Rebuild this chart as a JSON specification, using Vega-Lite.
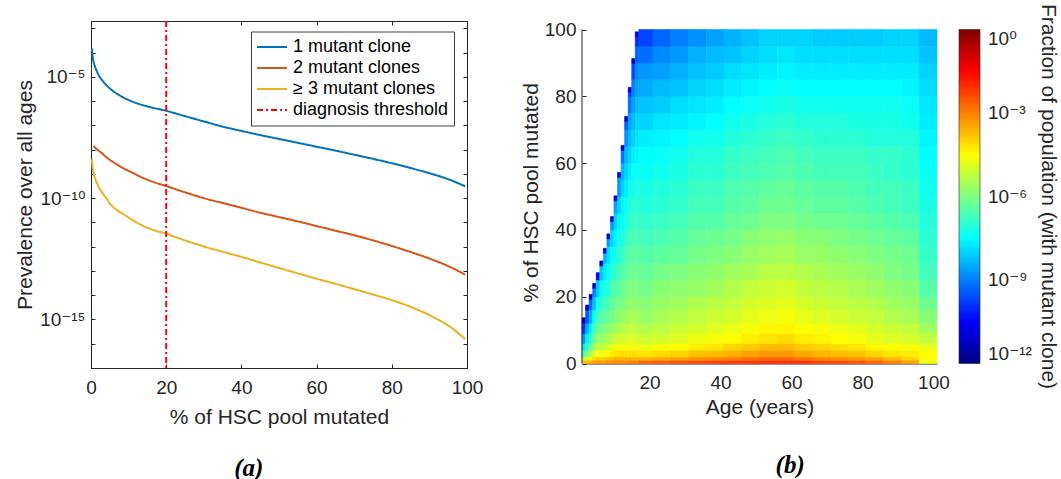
{
"$schema":"https://vega.github.io/schema/vega-lite/v6.json",
"background":"white",
"padding":{"left":14,"top":18,"right":0,"bottom":0},
"autosize":{"type":"pad"},
"config":{
"view":{"stroke":null},
"axis":{"labelFont":"Liberation Sans, DejaVu Sans","labelFontSize":19,"labelColor":"#262626","titleFont":"Liberation Sans","titleFontSize":21,"titleFontWeight":"normal","titleColor":"#262626","domainColor":"#262626","tickColor":"#262626","tickSize":-4,"labelPadding":10,"grid":false,"labelFlush":false,"labelOverlap":false,"labelBound":false},
"axisX":{"labelPadding":14}
},
"datasets":{
"lines":[
{"series":"1 mutant clone","pct":0.2,"prev":1.51e-4},{"series":"1 mutant clone","pct":0.5,"prev":5.89e-5},{"series":"1 mutant clone","pct":1,"prev":2.82e-5},{"series":"1 mutant clone","pct":1.5,"prev":1.78e-5},{"series":"1 mutant clone","pct":2,"prev":1.2e-5},{"series":"1 mutant clone","pct":3,"prev":7.08e-6},{"series":"1 mutant clone","pct":4,"prev":4.68e-6},{"series":"1 mutant clone","pct":5,"prev":3.31e-6},{"series":"1 mutant clone","pct":6,"prev":2.51e-6},{"series":"1 mutant clone","pct":8,"prev":1.58e-6},{"series":"1 mutant clone","pct":10,"prev":1.1e-6},{"series":"1 mutant clone","pct":12,"prev":8.32e-7},{"series":"1 mutant clone","pct":15,"prev":6.03e-7},{"series":"1 mutant clone","pct":20,"prev":3.98e-7},{"series":"1 mutant clone","pct":25,"prev":2.4e-7},{"series":"1 mutant clone","pct":30,"prev":1.45e-7},{"series":"1 mutant clone","pct":35,"prev":8.91e-8},{"series":"1 mutant clone","pct":40,"prev":5.89e-8},{"series":"1 mutant clone","pct":45,"prev":3.98e-8},{"series":"1 mutant clone","pct":50,"prev":2.75e-8},{"series":"1 mutant clone","pct":55,"prev":1.91e-8},{"series":"1 mutant clone","pct":60,"prev":1.32e-8},{"series":"1 mutant clone","pct":65,"prev":9.12e-9},{"series":"1 mutant clone","pct":70,"prev":6.17e-9},{"series":"1 mutant clone","pct":75,"prev":4.17e-9},{"series":"1 mutant clone","pct":80,"prev":2.75e-9},{"series":"1 mutant clone","pct":85,"prev":1.74e-9},{"series":"1 mutant clone","pct":90,"prev":1.07e-9},{"series":"1 mutant clone","pct":95,"prev":6.03e-10},{"series":"1 mutant clone","pct":99.5,"prev":3.09e-10},
{"series":"2 mutant clones","pct":0.7,"prev":1.41e-8},{"series":"2 mutant clones","pct":1,"prev":1.26e-8},{"series":"2 mutant clones","pct":1.5,"prev":1.05e-8},{"series":"2 mutant clones","pct":2,"prev":9.12e-9},{"series":"2 mutant clones","pct":3,"prev":6.92e-9},{"series":"2 mutant clones","pct":4,"prev":5.01e-9},{"series":"2 mutant clones","pct":5,"prev":3.8e-9},{"series":"2 mutant clones","pct":7,"prev":2.4e-9},{"series":"2 mutant clones","pct":9,"prev":1.58e-9},{"series":"2 mutant clones","pct":11,"prev":1.12e-9},{"series":"2 mutant clones","pct":13.3,"prev":7.41e-10},{"series":"2 mutant clones","pct":16,"prev":5.01e-10},{"series":"2 mutant clones","pct":20,"prev":3.16e-10},{"series":"2 mutant clones","pct":25,"prev":1.74e-10},{"series":"2 mutant clones","pct":30,"prev":1e-10},{"series":"2 mutant clones","pct":35,"prev":6.31e-11},{"series":"2 mutant clones","pct":40,"prev":3.98e-11},{"series":"2 mutant clones","pct":45,"prev":2.51e-11},{"series":"2 mutant clones","pct":50,"prev":1.66e-11},{"series":"2 mutant clones","pct":55,"prev":1.1e-11},{"series":"2 mutant clones","pct":60,"prev":7.08e-12},{"series":"2 mutant clones","pct":65,"prev":4.57e-12},{"series":"2 mutant clones","pct":70,"prev":2.95e-12},{"series":"2 mutant clones","pct":75,"prev":1.82e-12},{"series":"2 mutant clones","pct":80,"prev":1.07e-12},{"series":"2 mutant clones","pct":85,"prev":6.03e-13},{"series":"2 mutant clones","pct":90,"prev":3.24e-13},{"series":"2 mutant clones","pct":95,"prev":1.58e-13},{"series":"2 mutant clones","pct":99.5,"prev":7.08e-14},
{"series":"≥ 3 mutant clones","pct":0.2,"prev":3.98e-9},{"series":"≥ 3 mutant clones","pct":0.5,"prev":1.58e-9},{"series":"≥ 3 mutant clones","pct":1,"prev":7.08e-10},{"series":"≥ 3 mutant clones","pct":1.5,"prev":4.47e-10},{"series":"≥ 3 mutant clones","pct":2,"prev":3.02e-10},{"series":"≥ 3 mutant clones","pct":3,"prev":1.66e-10},{"series":"≥ 3 mutant clones","pct":4,"prev":1.05e-10},{"series":"≥ 3 mutant clones","pct":5,"prev":6.03e-11},{"series":"≥ 3 mutant clones","pct":7,"prev":3.16e-11},{"series":"≥ 3 mutant clones","pct":9,"prev":2e-11},{"series":"≥ 3 mutant clones","pct":11,"prev":1.26e-11},{"series":"≥ 3 mutant clones","pct":13.3,"prev":7.94e-12},{"series":"≥ 3 mutant clones","pct":16,"prev":5.25e-12},{"series":"≥ 3 mutant clones","pct":20,"prev":3.39e-12},{"series":"≥ 3 mutant clones","pct":25,"prev":1.82e-12},{"series":"≥ 3 mutant clones","pct":30,"prev":1.02e-12},{"series":"≥ 3 mutant clones","pct":35,"prev":6.17e-13},{"series":"≥ 3 mutant clones","pct":40,"prev":3.8e-13},{"series":"≥ 3 mutant clones","pct":45,"prev":2.24e-13},{"series":"≥ 3 mutant clones","pct":50,"prev":1.32e-13},{"series":"≥ 3 mutant clones","pct":55,"prev":7.94e-14},{"series":"≥ 3 mutant clones","pct":60,"prev":4.79e-14},{"series":"≥ 3 mutant clones","pct":65,"prev":2.95e-14},{"series":"≥ 3 mutant clones","pct":70,"prev":1.78e-14},{"series":"≥ 3 mutant clones","pct":75,"prev":1.07e-14},{"series":"≥ 3 mutant clones","pct":80,"prev":6.31e-15},{"series":"≥ 3 mutant clones","pct":85,"prev":3.31e-15},{"series":"≥ 3 mutant clones","pct":90,"prev":1.51e-15},{"series":"≥ 3 mutant clones","pct":95,"prev":5.62e-16},{"series":"≥ 3 mutant clones","pct":99.5,"prev":1.58e-16}
],
"heat":[
{"a":1,"b":2,"p":0,"q":1,"f":1.6e-4},{"a":1,"b":2,"p":1,"q":2,"f":4e-6},{"a":1,"b":2,"p":2,"q":4,"f":2e-7},{"a":1,"b":2,"p":4,"q":6,"f":2e-8},{"a":1,"b":2,"p":6,"q":9,"f":2e-9},{"a":1,"b":2,"p":9,"q":12,"f":1.3e-10},{"a":1,"b":2,"p":12,"q":13.7,"f":5e-12},
{"a":2,"b":3,"p":0,"q":1,"f":2e-4},{"a":2,"b":3,"p":1,"q":2,"f":1.6e-5},{"a":2,"b":3,"p":2,"q":4,"f":1.3e-6},{"a":2,"b":3,"p":4,"q":6,"f":1.3e-7},{"a":2,"b":3,"p":6,"q":9,"f":2.5e-8},{"a":2,"b":3,"p":9,"q":12,"f":3.2e-9},{"a":2,"b":3,"p":12,"q":16,"f":3.2e-10},{"a":2,"b":3,"p":16,"q":17.5,"f":6.3e-12},
{"a":3,"b":4,"p":0,"q":1,"f":3.2e-4},{"a":3,"b":4,"p":1,"q":2,"f":4e-5},{"a":3,"b":4,"p":2,"q":4,"f":4e-6},{"a":3,"b":4,"p":4,"q":6,"f":6.3e-7},{"a":3,"b":4,"p":6,"q":9,"f":1.3e-7},{"a":3,"b":4,"p":9,"q":12,"f":2.5e-8},{"a":3,"b":4,"p":12,"q":16,"f":4e-9},{"a":3,"b":4,"p":16,"q":19.2,"f":5e-10},{"a":3,"b":4,"p":19.2,"q":20.7,"f":6.3e-12},
{"a":4,"b":5,"p":0,"q":1,"f":4e-4},{"a":4,"b":5,"p":1,"q":2,"f":7.9e-5},{"a":4,"b":5,"p":2,"q":4,"f":1.3e-5},{"a":4,"b":5,"p":4,"q":6,"f":2e-6},{"a":4,"b":5,"p":6,"q":9,"f":5e-7},{"a":4,"b":5,"p":9,"q":12,"f":1.6e-7},{"a":4,"b":5,"p":12,"q":16,"f":4e-8},{"a":4,"b":5,"p":16,"q":20,"f":6.3e-9},{"a":4,"b":5,"p":20,"q":22.5,"f":1e-9},{"a":4,"b":5,"p":22.5,"q":24,"f":6.3e-12},
{"a":5,"b":6,"p":0,"q":1,"f":5e-4},{"a":5,"b":6,"p":1,"q":2,"f":1.3e-4},{"a":5,"b":6,"p":2,"q":4,"f":2.5e-5},{"a":5,"b":6,"p":4,"q":6,"f":6.3e-6},{"a":5,"b":6,"p":6,"q":9,"f":1.6e-6},{"a":5,"b":6,"p":9,"q":12,"f":6.3e-7},{"a":5,"b":6,"p":12,"q":16,"f":2e-7},{"a":5,"b":6,"p":16,"q":20,"f":5e-8},{"a":5,"b":6,"p":20,"q":25,"f":7.9e-9},{"a":5,"b":6,"p":25,"q":27.2,"f":1e-11},
{"a":6,"b":7,"p":0,"q":1,"f":5e-4},{"a":6,"b":7,"p":1,"q":2,"f":1e-4},{"a":6,"b":7,"p":2,"q":4,"f":2e-5},{"a":6,"b":7,"p":4,"q":6,"f":6.3e-6},{"a":6,"b":7,"p":6,"q":9,"f":2e-6},{"a":6,"b":7,"p":9,"q":12,"f":6.3e-7},{"a":6,"b":7,"p":12,"q":16,"f":3.2e-7},{"a":6,"b":7,"p":16,"q":20,"f":1e-7},{"a":6,"b":7,"p":20,"q":25,"f":3.2e-8},{"a":6,"b":7,"p":25,"q":29.2,"f":6.3e-9},{"a":6,"b":7,"p":29.2,"q":30.7,"f":7.9e-12},
{"a":7,"b":8,"p":0,"q":1,"f":5e-4},{"a":7,"b":8,"p":1,"q":2,"f":1.3e-4},{"a":7,"b":8,"p":2,"q":4,"f":2.5e-5},{"a":7,"b":8,"p":4,"q":6,"f":7.9e-6},{"a":7,"b":8,"p":6,"q":9,"f":2.5e-6},{"a":7,"b":8,"p":9,"q":12,"f":1e-6},{"a":7,"b":8,"p":12,"q":16,"f":4e-7},{"a":7,"b":8,"p":16,"q":20,"f":1.6e-7},{"a":7,"b":8,"p":20,"q":25,"f":6.3e-8},{"a":7,"b":8,"p":25,"q":30,"f":2e-8},{"a":7,"b":8,"p":30,"q":33,"f":4e-9},{"a":7,"b":8,"p":33,"q":34.5,"f":7.9e-12},
{"a":8,"b":9,"p":0,"q":1,"f":6.3e-4},{"a":8,"b":9,"p":1,"q":2,"f":1.6e-4},{"a":8,"b":9,"p":2,"q":4,"f":3.2e-5},{"a":8,"b":9,"p":4,"q":6,"f":1e-5},{"a":8,"b":9,"p":6,"q":9,"f":3.2e-6},{"a":8,"b":9,"p":9,"q":12,"f":1.3e-6},{"a":8,"b":9,"p":12,"q":16,"f":6.3e-7},{"a":8,"b":9,"p":16,"q":20,"f":2.5e-7},{"a":8,"b":9,"p":20,"q":25,"f":1e-7},{"a":8,"b":9,"p":25,"q":30,"f":4e-8},{"a":8,"b":9,"p":30,"q":35,"f":1.3e-8},{"a":8,"b":9,"p":35,"q":37.3,"f":2.5e-9},{"a":8,"b":9,"p":37.3,"q":38.8,"f":7.9e-12},
{"a":9,"b":10,"p":0,"q":1,"f":6.3e-4},{"a":9,"b":10,"p":1,"q":2,"f":2e-4},{"a":9,"b":10,"p":2,"q":4,"f":5e-5},{"a":9,"b":10,"p":4,"q":6,"f":1.6e-5},{"a":9,"b":10,"p":6,"q":9,"f":5e-6},{"a":9,"b":10,"p":9,"q":12,"f":2e-6},{"a":9,"b":10,"p":12,"q":16,"f":7.9e-7},{"a":9,"b":10,"p":16,"q":20,"f":4e-7},{"a":9,"b":10,"p":20,"q":25,"f":2e-7},{"a":9,"b":10,"p":25,"q":30,"f":7.9e-8},{"a":9,"b":10,"p":30,"q":35,"f":3.2e-8},{"a":9,"b":10,"p":35,"q":40,"f":1e-8},{"a":9,"b":10,"p":40,"q":42.5,"f":2e-9},{"a":9,"b":10,"p":42.5,"q":44,"f":7.9e-12},
{"a":10,"b":11,"p":0,"q":1,"f":7.9e-4},{"a":10,"b":11,"p":1,"q":2,"f":2.5e-4},{"a":10,"b":11,"p":2,"q":4,"f":6.3e-5},{"a":10,"b":11,"p":4,"q":6,"f":2e-5},{"a":10,"b":11,"p":6,"q":9,"f":7.9e-6},{"a":10,"b":11,"p":9,"q":12,"f":2.5e-6},{"a":10,"b":11,"p":12,"q":16,"f":1.3e-6},{"a":10,"b":11,"p":16,"q":20,"f":6.3e-7},{"a":10,"b":11,"p":20,"q":25,"f":3.2e-7},{"a":10,"b":11,"p":25,"q":30,"f":1.3e-7},{"a":10,"b":11,"p":30,"q":35,"f":6.3e-8},{"a":10,"b":11,"p":35,"q":40,"f":2.5e-8},{"a":10,"b":11,"p":40,"q":45,"f":1e-8},{"a":10,"b":11,"p":45,"q":48.7,"f":2.5e-9},{"a":10,"b":11,"p":48.7,"q":50.2,"f":7.9e-12},
{"a":11,"b":12,"p":0,"q":1,"f":7.9e-4},{"a":11,"b":12,"p":1,"q":2,"f":2.5e-4},{"a":11,"b":12,"p":2,"q":4,"f":7.9e-5},{"a":11,"b":12,"p":4,"q":6,"f":2.5e-5},{"a":11,"b":12,"p":6,"q":9,"f":1e-5},{"a":11,"b":12,"p":9,"q":12,"f":3.2e-6},{"a":11,"b":12,"p":12,"q":16,"f":1.6e-6},{"a":11,"b":12,"p":16,"q":20,"f":7.9e-7},{"a":11,"b":12,"p":20,"q":25,"f":4e-7},{"a":11,"b":12,"p":25,"q":30,"f":2e-7},{"a":11,"b":12,"p":30,"q":35,"f":1e-7},{"a":11,"b":12,"p":35,"q":40,"f":5e-8},{"a":11,"b":12,"p":40,"q":45,"f":2.5e-8},{"a":11,"b":12,"p":45,"q":50,"f":1e-8},{"a":11,"b":12,"p":50,"q":55.7,"f":2e-9},{"a":11,"b":12,"p":55.7,"q":57.2,"f":7.9e-12},
{"a":12,"b":13,"p":0,"q":1,"f":7.9e-4},{"a":12,"b":13,"p":1,"q":2,"f":2.5e-4},{"a":12,"b":13,"p":2,"q":4,"f":7.9e-5},{"a":12,"b":13,"p":4,"q":6,"f":2.5e-5},{"a":12,"b":13,"p":6,"q":9,"f":1e-5},{"a":12,"b":13,"p":9,"q":12,"f":5e-6},{"a":12,"b":13,"p":12,"q":16,"f":2e-6},{"a":12,"b":13,"p":16,"q":20,"f":1e-6},{"a":12,"b":13,"p":20,"q":25,"f":6.3e-7},{"a":12,"b":13,"p":25,"q":30,"f":3.2e-7},{"a":12,"b":13,"p":30,"q":35,"f":1.6e-7},{"a":12,"b":13,"p":35,"q":40,"f":7.9e-8},{"a":12,"b":13,"p":40,"q":45,"f":4e-8},{"a":12,"b":13,"p":45,"q":50,"f":2.5e-8},{"a":12,"b":13,"p":50,"q":55,"f":1e-8},{"a":12,"b":13,"p":55,"q":60,"f":4e-9},{"a":12,"b":13,"p":60,"q":63.8,"f":7.9e-10},{"a":12,"b":13,"p":63.8,"q":65.3,"f":7.9e-12},
{"a":13,"b":14,"p":0,"q":1,"f":7.9e-4},{"a":13,"b":14,"p":1,"q":2,"f":2.5e-4},{"a":13,"b":14,"p":2,"q":4,"f":7.9e-5},{"a":13,"b":14,"p":4,"q":6,"f":2.5e-5},{"a":13,"b":14,"p":6,"q":9,"f":1e-5},{"a":13,"b":14,"p":9,"q":12,"f":5e-6},{"a":13,"b":14,"p":12,"q":16,"f":2.5e-6},{"a":13,"b":14,"p":16,"q":20,"f":1.3e-6},{"a":13,"b":14,"p":20,"q":25,"f":7.9e-7},{"a":13,"b":14,"p":25,"q":30,"f":4e-7},{"a":13,"b":14,"p":30,"q":35,"f":2.5e-7},{"a":13,"b":14,"p":35,"q":40,"f":1.3e-7},{"a":13,"b":14,"p":40,"q":45,"f":6.3e-8},{"a":13,"b":14,"p":45,"q":50,"f":4e-8},{"a":13,"b":14,"p":50,"q":55,"f":2e-8},{"a":13,"b":14,"p":55,"q":60,"f":1e-8},{"a":13,"b":14,"p":60,"q":65,"f":5e-9},{"a":13,"b":14,"p":65,"q":70,"f":1.6e-9},{"a":13,"b":14,"p":70,"q":72.5,"f":4e-10},{"a":13,"b":14,"p":72.5,"q":74,"f":7.9e-12},
{"a":14,"b":15,"p":0,"q":1,"f":1e-3},{"a":14,"b":15,"p":1,"q":2,"f":2.5e-4},{"a":14,"b":15,"p":2,"q":4,"f":7.9e-5},{"a":14,"b":15,"p":4,"q":6,"f":2.5e-5},{"a":14,"b":15,"p":6,"q":9,"f":1.3e-5},{"a":14,"b":15,"p":9,"q":12,"f":6.3e-6},{"a":14,"b":15,"p":12,"q":16,"f":2.5e-6},{"a":14,"b":15,"p":16,"q":20,"f":1.6e-6},{"a":14,"b":15,"p":20,"q":25,"f":1e-6},{"a":14,"b":15,"p":25,"q":30,"f":5e-7},{"a":14,"b":15,"p":30,"q":35,"f":3.2e-7},{"a":14,"b":15,"p":35,"q":40,"f":2e-7},{"a":14,"b":15,"p":40,"q":45,"f":1e-7},{"a":14,"b":15,"p":45,"q":50,"f":6.3e-8},{"a":14,"b":15,"p":50,"q":55,"f":4e-8},{"a":14,"b":15,"p":55,"q":60,"f":2e-8},{"a":14,"b":15,"p":60,"q":65,"f":1e-8},{"a":14,"b":15,"p":65,"q":70,"f":5e-9},{"a":14,"b":15,"p":70,"q":75,"f":2.5e-9},{"a":14,"b":15,"p":75,"q":80,"f":6.3e-10},{"a":14,"b":15,"p":80,"q":81.2,"f":2e-10},{"a":14,"b":15,"p":81.2,"q":82.7,"f":7.9e-12},
{"a":15,"b":16,"p":0,"q":1,"f":1e-3},{"a":15,"b":16,"p":1,"q":2,"f":2.5e-4},{"a":15,"b":16,"p":2,"q":4,"f":7.9e-5},{"a":15,"b":16,"p":4,"q":6,"f":2.5e-5},{"a":15,"b":16,"p":6,"q":9,"f":1.3e-5},{"a":15,"b":16,"p":9,"q":12,"f":6.3e-6},{"a":15,"b":16,"p":12,"q":16,"f":3.2e-6},{"a":15,"b":16,"p":16,"q":20,"f":1.6e-6},{"a":15,"b":16,"p":20,"q":25,"f":1e-6},{"a":15,"b":16,"p":25,"q":30,"f":6.3e-7},{"a":15,"b":16,"p":30,"q":35,"f":4e-7},{"a":15,"b":16,"p":35,"q":40,"f":2.5e-7},{"a":15,"b":16,"p":40,"q":45,"f":1.6e-7},{"a":15,"b":16,"p":45,"q":50,"f":1e-7},{"a":15,"b":16,"p":50,"q":55,"f":5e-8},{"a":15,"b":16,"p":55,"q":60,"f":3.2e-8},{"a":15,"b":16,"p":60,"q":65,"f":2e-8},{"a":15,"b":16,"p":65,"q":70,"f":1e-8},{"a":15,"b":16,"p":70,"q":75,"f":5e-9},{"a":15,"b":16,"p":75,"q":80,"f":2.5e-9},{"a":15,"b":16,"p":80,"q":85,"f":1e-9},{"a":15,"b":16,"p":85,"q":89.8,"f":2.5e-10},{"a":15,"b":16,"p":89.8,"q":91.3,"f":7.9e-12},
{"a":16,"b":17,"p":0,"q":1,"f":1e-3},{"a":16,"b":17,"p":1,"q":2,"f":2.5e-4},{"a":16,"b":17,"p":2,"q":4,"f":7.9e-5},{"a":16,"b":17,"p":4,"q":6,"f":2.5e-5},{"a":16,"b":17,"p":6,"q":9,"f":1e-5},{"a":16,"b":17,"p":9,"q":12,"f":5e-6},{"a":16,"b":17,"p":12,"q":16,"f":3.2e-6},{"a":16,"b":17,"p":16,"q":20,"f":1.6e-6},{"a":16,"b":17,"p":20,"q":25,"f":1e-6},{"a":16,"b":17,"p":25,"q":30,"f":6.3e-7},{"a":16,"b":17,"p":30,"q":35,"f":4e-7},{"a":16,"b":17,"p":35,"q":40,"f":2.5e-7},{"a":16,"b":17,"p":40,"q":45,"f":1.6e-7},{"a":16,"b":17,"p":45,"q":50,"f":1e-7},{"a":16,"b":17,"p":50,"q":55,"f":6.3e-8},{"a":16,"b":17,"p":55,"q":60,"f":4e-8},{"a":16,"b":17,"p":60,"q":65,"f":2.5e-8},{"a":16,"b":17,"p":65,"q":70,"f":1.6e-8},{"a":16,"b":17,"p":70,"q":75,"f":1e-8},{"a":16,"b":17,"p":75,"q":80,"f":5e-9},{"a":16,"b":17,"p":80,"q":85,"f":2.5e-9},{"a":16,"b":17,"p":85,"q":90,"f":1.3e-9},{"a":16,"b":17,"p":90,"q":95,"f":4e-10},{"a":16,"b":17,"p":95,"q":97.8,"f":1e-10},{"a":16,"b":17,"p":97.8,"q":99.3,"f":7.9e-12},
{"a":17,"b":21,"p":0,"q":1,"f":2e-3},{"a":17,"b":21,"p":1,"q":2,"f":2.5e-4},{"a":17,"b":21,"p":2,"q":4,"f":6.3e-5},{"a":17,"b":21,"p":4,"q":6,"f":2e-5},{"a":17,"b":21,"p":6,"q":9,"f":7.9e-6},{"a":17,"b":21,"p":9,"q":12,"f":4e-6},{"a":17,"b":21,"p":12,"q":16,"f":2e-6},{"a":17,"b":21,"p":16,"q":20,"f":1.3e-6},{"a":17,"b":21,"p":20,"q":25,"f":7.9e-7},{"a":17,"b":21,"p":25,"q":30,"f":5e-7},{"a":17,"b":21,"p":30,"q":35,"f":3.2e-7},{"a":17,"b":21,"p":35,"q":40,"f":2e-7},{"a":17,"b":21,"p":40,"q":45,"f":1.3e-7},{"a":17,"b":21,"p":45,"q":50,"f":7.9e-8},{"a":17,"b":21,"p":50,"q":55,"f":6.3e-8},{"a":17,"b":21,"p":55,"q":60,"f":4e-8},{"a":17,"b":21,"p":60,"q":65,"f":3.2e-8},{"a":17,"b":21,"p":65,"q":70,"f":2e-8},{"a":17,"b":21,"p":70,"q":75,"f":1e-8},{"a":17,"b":21,"p":75,"q":80,"f":6.3e-9},{"a":17,"b":21,"p":80,"q":85,"f":3.2e-9},{"a":17,"b":21,"p":85,"q":90,"f":2e-9},{"a":17,"b":21,"p":90,"q":95,"f":6.3e-10},{"a":17,"b":21,"p":95,"q":100,"f":2e-10},
{"a":21,"b":26,"p":0,"q":1,"f":2.5e-3},{"a":21,"b":26,"p":1,"q":2,"f":3.2e-4},{"a":21,"b":26,"p":2,"q":4,"f":7.9e-5},{"a":21,"b":26,"p":4,"q":6,"f":2.5e-5},{"a":21,"b":26,"p":6,"q":9,"f":1e-5},{"a":21,"b":26,"p":9,"q":12,"f":5e-6},{"a":21,"b":26,"p":12,"q":16,"f":3.2e-6},{"a":21,"b":26,"p":16,"q":20,"f":2e-6},{"a":21,"b":26,"p":20,"q":25,"f":1.3e-6},{"a":21,"b":26,"p":25,"q":30,"f":7.9e-7},{"a":21,"b":26,"p":30,"q":35,"f":4e-7},{"a":21,"b":26,"p":35,"q":40,"f":2.5e-7},{"a":21,"b":26,"p":40,"q":45,"f":1.6e-7},{"a":21,"b":26,"p":45,"q":50,"f":1e-7},{"a":21,"b":26,"p":50,"q":55,"f":7.9e-8},{"a":21,"b":26,"p":55,"q":60,"f":5e-8},{"a":21,"b":26,"p":60,"q":65,"f":4e-8},{"a":21,"b":26,"p":65,"q":70,"f":2.5e-8},{"a":21,"b":26,"p":70,"q":75,"f":1.6e-8},{"a":21,"b":26,"p":75,"q":80,"f":7.9e-9},{"a":21,"b":26,"p":80,"q":85,"f":5e-9},{"a":21,"b":26,"p":85,"q":90,"f":2.5e-9},{"a":21,"b":26,"p":90,"q":95,"f":1.3e-9},{"a":21,"b":26,"p":95,"q":100,"f":5e-10},
{"a":26,"b":31,"p":0,"q":1,"f":3.2e-3},{"a":26,"b":31,"p":1,"q":2,"f":4e-4},{"a":26,"b":31,"p":2,"q":4,"f":1e-4},{"a":26,"b":31,"p":4,"q":6,"f":3.2e-5},{"a":26,"b":31,"p":6,"q":9,"f":1.3e-5},{"a":26,"b":31,"p":9,"q":12,"f":7.9e-6},{"a":26,"b":31,"p":12,"q":16,"f":4e-6},{"a":26,"b":31,"p":16,"q":20,"f":2.5e-6},{"a":26,"b":31,"p":20,"q":25,"f":1.6e-6},{"a":26,"b":31,"p":25,"q":30,"f":1e-6},{"a":26,"b":31,"p":30,"q":35,"f":5e-7},{"a":26,"b":31,"p":35,"q":40,"f":3.2e-7},{"a":26,"b":31,"p":40,"q":45,"f":2e-7},{"a":26,"b":31,"p":45,"q":50,"f":1.3e-7},{"a":26,"b":31,"p":50,"q":55,"f":1e-7},{"a":26,"b":31,"p":55,"q":60,"f":6.3e-8},{"a":26,"b":31,"p":60,"q":65,"f":5e-8},{"a":26,"b":31,"p":65,"q":70,"f":3.2e-8},{"a":26,"b":31,"p":70,"q":75,"f":2e-8},{"a":26,"b":31,"p":75,"q":80,"f":1.3e-8},{"a":26,"b":31,"p":80,"q":85,"f":6.3e-9},{"a":26,"b":31,"p":85,"q":90,"f":4e-9},{"a":26,"b":31,"p":90,"q":95,"f":2e-9},{"a":26,"b":31,"p":95,"q":100,"f":1e-9},
{"a":31,"b":36,"p":0,"q":1,"f":4e-3},{"a":31,"b":36,"p":1,"q":2,"f":6.3e-4},{"a":31,"b":36,"p":2,"q":4,"f":1.6e-4},{"a":31,"b":36,"p":4,"q":6,"f":5e-5},{"a":31,"b":36,"p":6,"q":9,"f":2e-5},{"a":31,"b":36,"p":9,"q":12,"f":1e-5},{"a":31,"b":36,"p":12,"q":16,"f":6.3e-6},{"a":31,"b":36,"p":16,"q":20,"f":4e-6},{"a":31,"b":36,"p":20,"q":25,"f":2e-6},{"a":31,"b":36,"p":25,"q":30,"f":1.3e-6},{"a":31,"b":36,"p":30,"q":35,"f":7.9e-7},{"a":31,"b":36,"p":35,"q":40,"f":5e-7},{"a":31,"b":36,"p":40,"q":45,"f":3.2e-7},{"a":31,"b":36,"p":45,"q":50,"f":2e-7},{"a":31,"b":36,"p":50,"q":55,"f":1.6e-7},{"a":31,"b":36,"p":55,"q":60,"f":1e-7},{"a":31,"b":36,"p":60,"q":65,"f":7.9e-8},{"a":31,"b":36,"p":65,"q":70,"f":5e-8},{"a":31,"b":36,"p":70,"q":75,"f":2.5e-8},{"a":31,"b":36,"p":75,"q":80,"f":1.6e-8},{"a":31,"b":36,"p":80,"q":85,"f":1e-8},{"a":31,"b":36,"p":85,"q":90,"f":6.3e-9},{"a":31,"b":36,"p":90,"q":95,"f":4e-9},{"a":31,"b":36,"p":95,"q":100,"f":1.6e-9},
{"a":36,"b":41,"p":0,"q":1,"f":5e-3},{"a":36,"b":41,"p":1,"q":2,"f":7.9e-4},{"a":36,"b":41,"p":2,"q":4,"f":2e-4},{"a":36,"b":41,"p":4,"q":6,"f":6.3e-5},{"a":36,"b":41,"p":6,"q":9,"f":2.5e-5},{"a":36,"b":41,"p":9,"q":12,"f":1.3e-5},{"a":36,"b":41,"p":12,"q":16,"f":7.9e-6},{"a":36,"b":41,"p":16,"q":20,"f":5e-6},{"a":36,"b":41,"p":20,"q":25,"f":2.5e-6},{"a":36,"b":41,"p":25,"q":30,"f":1.6e-6},{"a":36,"b":41,"p":30,"q":35,"f":1e-6},{"a":36,"b":41,"p":35,"q":40,"f":6.3e-7},{"a":36,"b":41,"p":40,"q":45,"f":3.2e-7},{"a":36,"b":41,"p":45,"q":50,"f":2e-7},{"a":36,"b":41,"p":50,"q":55,"f":1.6e-7},{"a":36,"b":41,"p":55,"q":60,"f":1e-7},{"a":36,"b":41,"p":60,"q":65,"f":7.9e-8},{"a":36,"b":41,"p":65,"q":70,"f":5e-8},{"a":36,"b":41,"p":70,"q":75,"f":3.2e-8},{"a":36,"b":41,"p":75,"q":80,"f":2e-8},{"a":36,"b":41,"p":80,"q":85,"f":1.3e-8},{"a":36,"b":41,"p":85,"q":90,"f":7.9e-9},{"a":36,"b":41,"p":90,"q":95,"f":5e-9},{"a":36,"b":41,"p":95,"q":100,"f":2.5e-9},
{"a":41,"b":46,"p":0,"q":1,"f":6.3e-3},{"a":41,"b":46,"p":1,"q":2,"f":1e-3},{"a":41,"b":46,"p":2,"q":4,"f":2.5e-4},{"a":41,"b":46,"p":4,"q":6,"f":1e-4},{"a":41,"b":46,"p":6,"q":9,"f":3.2e-5},{"a":41,"b":46,"p":9,"q":12,"f":2e-5},{"a":41,"b":46,"p":12,"q":16,"f":1e-5},{"a":41,"b":46,"p":16,"q":20,"f":6.3e-6},{"a":41,"b":46,"p":20,"q":25,"f":4e-6},{"a":41,"b":46,"p":25,"q":30,"f":2.5e-6},{"a":41,"b":46,"p":30,"q":35,"f":1.3e-6},{"a":41,"b":46,"p":35,"q":40,"f":7.9e-7},{"a":41,"b":46,"p":40,"q":45,"f":5e-7},{"a":41,"b":46,"p":45,"q":50,"f":3.2e-7},{"a":41,"b":46,"p":50,"q":55,"f":2.5e-7},{"a":41,"b":46,"p":55,"q":60,"f":1.6e-7},{"a":41,"b":46,"p":60,"q":65,"f":1.3e-7},{"a":41,"b":46,"p":65,"q":70,"f":7.9e-8},{"a":41,"b":46,"p":70,"q":75,"f":5e-8},{"a":41,"b":46,"p":75,"q":80,"f":3.2e-8},{"a":41,"b":46,"p":80,"q":85,"f":2e-8},{"a":41,"b":46,"p":85,"q":90,"f":1.3e-8},{"a":41,"b":46,"p":90,"q":95,"f":6.3e-9},{"a":41,"b":46,"p":95,"q":100,"f":4e-9},
{"a":46,"b":51,"p":0,"q":1,"f":6.3e-3},{"a":46,"b":51,"p":1,"q":2,"f":1.6e-3},{"a":46,"b":51,"p":2,"q":4,"f":4e-4},{"a":46,"b":51,"p":4,"q":6,"f":1.3e-4},{"a":46,"b":51,"p":6,"q":9,"f":5e-5},{"a":46,"b":51,"p":9,"q":12,"f":2.5e-5},{"a":46,"b":51,"p":12,"q":16,"f":1.6e-5},{"a":46,"b":51,"p":16,"q":20,"f":1e-5},{"a":46,"b":51,"p":20,"q":25,"f":6.3e-6},{"a":46,"b":51,"p":25,"q":30,"f":3.2e-6},{"a":46,"b":51,"p":30,"q":35,"f":2e-6},{"a":46,"b":51,"p":35,"q":40,"f":1.3e-6},{"a":46,"b":51,"p":40,"q":45,"f":6.3e-7},{"a":46,"b":51,"p":45,"q":50,"f":4e-7},{"a":46,"b":51,"p":50,"q":55,"f":3.2e-7},{"a":46,"b":51,"p":55,"q":60,"f":2e-7},{"a":46,"b":51,"p":60,"q":65,"f":1.6e-7},{"a":46,"b":51,"p":65,"q":70,"f":1e-7},{"a":46,"b":51,"p":70,"q":75,"f":6.3e-8},{"a":46,"b":51,"p":75,"q":80,"f":4e-8},{"a":46,"b":51,"p":80,"q":85,"f":2.5e-8},{"a":46,"b":51,"p":85,"q":90,"f":1.6e-8},{"a":46,"b":51,"p":90,"q":95,"f":1e-8},{"a":46,"b":51,"p":95,"q":100,"f":6.3e-9},
{"a":51,"b":56,"p":0,"q":1,"f":7.9e-3},{"a":51,"b":56,"p":1,"q":2,"f":2e-3},{"a":51,"b":56,"p":2,"q":4,"f":5e-4},{"a":51,"b":56,"p":4,"q":6,"f":2e-4},{"a":51,"b":56,"p":6,"q":9,"f":6.3e-5},{"a":51,"b":56,"p":9,"q":12,"f":4e-5},{"a":51,"b":56,"p":12,"q":16,"f":2e-5},{"a":51,"b":56,"p":16,"q":20,"f":1.3e-5},{"a":51,"b":56,"p":20,"q":25,"f":7.9e-6},{"a":51,"b":56,"p":25,"q":30,"f":5e-6},{"a":51,"b":56,"p":30,"q":35,"f":2.5e-6},{"a":51,"b":56,"p":35,"q":40,"f":1.6e-6},{"a":51,"b":56,"p":40,"q":45,"f":1e-6},{"a":51,"b":56,"p":45,"q":50,"f":6.3e-7},{"a":51,"b":56,"p":50,"q":55,"f":4e-7},{"a":51,"b":56,"p":55,"q":60,"f":2.5e-7},{"a":51,"b":56,"p":60,"q":65,"f":2e-7},{"a":51,"b":56,"p":65,"q":70,"f":1.3e-7},{"a":51,"b":56,"p":70,"q":75,"f":7.9e-8},{"a":51,"b":56,"p":75,"q":80,"f":5e-8},{"a":51,"b":56,"p":80,"q":85,"f":3.2e-8},{"a":51,"b":56,"p":85,"q":90,"f":2e-8},{"a":51,"b":56,"p":90,"q":95,"f":1.3e-8},{"a":51,"b":56,"p":95,"q":100,"f":1e-8},
{"a":56,"b":61,"p":0,"q":1,"f":7.9e-3},{"a":56,"b":61,"p":1,"q":2,"f":2e-3},{"a":56,"b":61,"p":2,"q":4,"f":5e-4},{"a":56,"b":61,"p":4,"q":6,"f":2e-4},{"a":56,"b":61,"p":6,"q":9,"f":7.9e-5},{"a":56,"b":61,"p":9,"q":12,"f":4e-5},{"a":56,"b":61,"p":12,"q":16,"f":2.5e-5},{"a":56,"b":61,"p":16,"q":20,"f":1.6e-5},{"a":56,"b":61,"p":20,"q":25,"f":1e-5},{"a":56,"b":61,"p":25,"q":30,"f":5e-6},{"a":56,"b":61,"p":30,"q":35,"f":3.2e-6},{"a":56,"b":61,"p":35,"q":40,"f":2e-6},{"a":56,"b":61,"p":40,"q":45,"f":1e-6},{"a":56,"b":61,"p":45,"q":50,"f":6.3e-7},{"a":56,"b":61,"p":50,"q":55,"f":5e-7},{"a":56,"b":61,"p":55,"q":60,"f":3.2e-7},{"a":56,"b":61,"p":60,"q":65,"f":2.5e-7},{"a":56,"b":61,"p":65,"q":70,"f":1.6e-7},{"a":56,"b":61,"p":70,"q":75,"f":1e-7},{"a":56,"b":61,"p":75,"q":80,"f":6.3e-8},{"a":56,"b":61,"p":80,"q":85,"f":4e-8},{"a":56,"b":61,"p":85,"q":90,"f":2.5e-8},{"a":56,"b":61,"p":90,"q":95,"f":1.6e-8},{"a":56,"b":61,"p":95,"q":100,"f":1e-8},
{"a":61,"b":66,"p":0,"q":1,"f":7.9e-3},{"a":61,"b":66,"p":1,"q":2,"f":1.3e-3},{"a":61,"b":66,"p":2,"q":4,"f":3.2e-4},{"a":61,"b":66,"p":4,"q":6,"f":1.3e-4},{"a":61,"b":66,"p":6,"q":9,"f":5e-5},{"a":61,"b":66,"p":9,"q":12,"f":3.2e-5},{"a":61,"b":66,"p":12,"q":16,"f":1.6e-5},{"a":61,"b":66,"p":16,"q":20,"f":1e-5},{"a":61,"b":66,"p":20,"q":25,"f":6.3e-6},{"a":61,"b":66,"p":25,"q":30,"f":4e-6},{"a":61,"b":66,"p":30,"q":35,"f":2e-6},{"a":61,"b":66,"p":35,"q":40,"f":1.3e-6},{"a":61,"b":66,"p":40,"q":45,"f":7.9e-7},{"a":61,"b":66,"p":45,"q":50,"f":5e-7},{"a":61,"b":66,"p":50,"q":55,"f":4e-7},{"a":61,"b":66,"p":55,"q":60,"f":2.5e-7},{"a":61,"b":66,"p":60,"q":65,"f":2e-7},{"a":61,"b":66,"p":65,"q":70,"f":1.3e-7},{"a":61,"b":66,"p":70,"q":75,"f":7.9e-8},{"a":61,"b":66,"p":75,"q":80,"f":5e-8},{"a":61,"b":66,"p":80,"q":85,"f":3.2e-8},{"a":61,"b":66,"p":85,"q":90,"f":2e-8},{"a":61,"b":66,"p":90,"q":95,"f":1.3e-8},{"a":61,"b":66,"p":95,"q":100,"f":1e-8},
{"a":66,"b":71,"p":0,"q":1,"f":5e-3},{"a":66,"b":71,"p":1,"q":2,"f":7.9e-4},{"a":66,"b":71,"p":2,"q":4,"f":2.5e-4},{"a":66,"b":71,"p":4,"q":6,"f":1e-4},{"a":66,"b":71,"p":6,"q":9,"f":4e-5},{"a":66,"b":71,"p":9,"q":12,"f":2.5e-5},{"a":66,"b":71,"p":12,"q":16,"f":1.3e-5},{"a":66,"b":71,"p":16,"q":20,"f":7.9e-6},{"a":66,"b":71,"p":20,"q":25,"f":5e-6},{"a":66,"b":71,"p":25,"q":30,"f":3.2e-6},{"a":66,"b":71,"p":30,"q":35,"f":2e-6},{"a":66,"b":71,"p":35,"q":40,"f":1.3e-6},{"a":66,"b":71,"p":40,"q":45,"f":6.3e-7},{"a":66,"b":71,"p":45,"q":50,"f":4e-7},{"a":66,"b":71,"p":50,"q":55,"f":3.2e-7},{"a":66,"b":71,"p":55,"q":60,"f":2e-7},{"a":66,"b":71,"p":60,"q":65,"f":1.6e-7},{"a":66,"b":71,"p":65,"q":70,"f":1e-7},{"a":66,"b":71,"p":70,"q":75,"f":7.9e-8},{"a":66,"b":71,"p":75,"q":80,"f":5e-8},{"a":66,"b":71,"p":80,"q":85,"f":3.2e-8},{"a":66,"b":71,"p":85,"q":90,"f":2e-8},{"a":66,"b":71,"p":90,"q":95,"f":1.3e-8},{"a":66,"b":71,"p":95,"q":100,"f":7.9e-9},
{"a":71,"b":76,"p":0,"q":1,"f":4e-3},{"a":71,"b":76,"p":1,"q":2,"f":6.3e-4},{"a":71,"b":76,"p":2,"q":4,"f":2e-4},{"a":71,"b":76,"p":4,"q":6,"f":7.9e-5},{"a":71,"b":76,"p":6,"q":9,"f":3.2e-5},{"a":71,"b":76,"p":9,"q":12,"f":2e-5},{"a":71,"b":76,"p":12,"q":16,"f":1e-5},{"a":71,"b":76,"p":16,"q":20,"f":6.3e-6},{"a":71,"b":76,"p":20,"q":25,"f":4e-6},{"a":71,"b":76,"p":25,"q":30,"f":2.5e-6},{"a":71,"b":76,"p":30,"q":35,"f":1.6e-6},{"a":71,"b":76,"p":35,"q":40,"f":1e-6},{"a":71,"b":76,"p":40,"q":45,"f":6.3e-7},{"a":71,"b":76,"p":45,"q":50,"f":4e-7},{"a":71,"b":76,"p":50,"q":55,"f":3.2e-7},{"a":71,"b":76,"p":55,"q":60,"f":2e-7},{"a":71,"b":76,"p":60,"q":65,"f":1.6e-7},{"a":71,"b":76,"p":65,"q":70,"f":1e-7},{"a":71,"b":76,"p":70,"q":75,"f":7.9e-8},{"a":71,"b":76,"p":75,"q":80,"f":5e-8},{"a":71,"b":76,"p":80,"q":85,"f":3.2e-8},{"a":71,"b":76,"p":85,"q":90,"f":2e-8},{"a":71,"b":76,"p":90,"q":95,"f":1.3e-8},{"a":71,"b":76,"p":95,"q":100,"f":7.9e-9},
{"a":76,"b":81,"p":0,"q":1,"f":3.2e-3},{"a":76,"b":81,"p":1,"q":2,"f":5e-4},{"a":76,"b":81,"p":2,"q":4,"f":1.6e-4},{"a":76,"b":81,"p":4,"q":6,"f":6.3e-5},{"a":76,"b":81,"p":6,"q":9,"f":2.5e-5},{"a":76,"b":81,"p":9,"q":12,"f":1.6e-5},{"a":76,"b":81,"p":12,"q":16,"f":7.9e-6},{"a":76,"b":81,"p":16,"q":20,"f":5e-6},{"a":76,"b":81,"p":20,"q":25,"f":3.2e-6},{"a":76,"b":81,"p":25,"q":30,"f":2e-6},{"a":76,"b":81,"p":30,"q":35,"f":1.3e-6},{"a":76,"b":81,"p":35,"q":40,"f":7.9e-7},{"a":76,"b":81,"p":40,"q":45,"f":5e-7},{"a":76,"b":81,"p":45,"q":50,"f":3.2e-7},{"a":76,"b":81,"p":50,"q":55,"f":2.5e-7},{"a":76,"b":81,"p":55,"q":60,"f":2e-7},{"a":76,"b":81,"p":60,"q":65,"f":1.6e-7},{"a":76,"b":81,"p":65,"q":70,"f":1e-7},{"a":76,"b":81,"p":70,"q":75,"f":6.3e-8},{"a":76,"b":81,"p":75,"q":80,"f":5e-8},{"a":76,"b":81,"p":80,"q":85,"f":3.2e-8},{"a":76,"b":81,"p":85,"q":90,"f":2e-8},{"a":76,"b":81,"p":90,"q":95,"f":1.3e-8},{"a":76,"b":81,"p":95,"q":100,"f":7.9e-9},
{"a":81,"b":86,"p":0,"q":1,"f":2e-3},{"a":81,"b":86,"p":1,"q":2,"f":4e-4},{"a":81,"b":86,"p":2,"q":4,"f":1e-4},{"a":81,"b":86,"p":4,"q":6,"f":4e-5},{"a":81,"b":86,"p":6,"q":9,"f":1.6e-5},{"a":81,"b":86,"p":9,"q":12,"f":1e-5},{"a":81,"b":86,"p":12,"q":16,"f":6.3e-6},{"a":81,"b":86,"p":16,"q":20,"f":4e-6},{"a":81,"b":86,"p":20,"q":25,"f":2.5e-6},{"a":81,"b":86,"p":25,"q":30,"f":1.6e-6},{"a":81,"b":86,"p":30,"q":35,"f":1e-6},{"a":81,"b":86,"p":35,"q":40,"f":6.3e-7},{"a":81,"b":86,"p":40,"q":45,"f":4e-7},{"a":81,"b":86,"p":45,"q":50,"f":2.5e-7},{"a":81,"b":86,"p":50,"q":55,"f":2e-7},{"a":81,"b":86,"p":55,"q":60,"f":1.6e-7},{"a":81,"b":86,"p":60,"q":65,"f":1.3e-7},{"a":81,"b":86,"p":65,"q":70,"f":7.9e-8},{"a":81,"b":86,"p":70,"q":75,"f":6.3e-8},{"a":81,"b":86,"p":75,"q":80,"f":5e-8},{"a":81,"b":86,"p":80,"q":85,"f":3.2e-8},{"a":81,"b":86,"p":85,"q":90,"f":2e-8},{"a":81,"b":86,"p":90,"q":95,"f":1.3e-8},{"a":81,"b":86,"p":95,"q":100,"f":7.9e-9},
{"a":86,"b":91,"p":0,"q":1,"f":1e-3},{"a":86,"b":91,"p":1,"q":2,"f":2e-4},{"a":86,"b":91,"p":2,"q":4,"f":6.3e-5},{"a":86,"b":91,"p":4,"q":6,"f":3.2e-5},{"a":86,"b":91,"p":6,"q":9,"f":1.3e-5},{"a":86,"b":91,"p":9,"q":12,"f":7.9e-6},{"a":86,"b":91,"p":12,"q":16,"f":4e-6},{"a":86,"b":91,"p":16,"q":20,"f":2.5e-6},{"a":86,"b":91,"p":20,"q":25,"f":1.6e-6},{"a":86,"b":91,"p":25,"q":30,"f":1e-6},{"a":86,"b":91,"p":30,"q":35,"f":7.9e-7},{"a":86,"b":91,"p":35,"q":40,"f":5e-7},{"a":86,"b":91,"p":40,"q":45,"f":3.2e-7},{"a":86,"b":91,"p":45,"q":50,"f":2e-7},{"a":86,"b":91,"p":50,"q":55,"f":2e-7},{"a":86,"b":91,"p":55,"q":60,"f":1.3e-7},{"a":86,"b":91,"p":60,"q":65,"f":1.3e-7},{"a":86,"b":91,"p":65,"q":70,"f":7.9e-8},{"a":86,"b":91,"p":70,"q":75,"f":6.3e-8},{"a":86,"b":91,"p":75,"q":80,"f":5e-8},{"a":86,"b":91,"p":80,"q":85,"f":3.2e-8},{"a":86,"b":91,"p":85,"q":90,"f":2e-8},{"a":86,"b":91,"p":90,"q":95,"f":1.3e-8},{"a":86,"b":91,"p":95,"q":100,"f":1e-8},
{"a":91,"b":96,"p":0,"q":1,"f":4e-4},{"a":91,"b":96,"p":1,"q":2,"f":1e-4},{"a":91,"b":96,"p":2,"q":4,"f":5e-5},{"a":91,"b":96,"p":4,"q":6,"f":2.5e-5},{"a":91,"b":96,"p":6,"q":9,"f":1e-5},{"a":91,"b":96,"p":9,"q":12,"f":6.3e-6},{"a":91,"b":96,"p":12,"q":16,"f":3.2e-6},{"a":91,"b":96,"p":16,"q":20,"f":2e-6},{"a":91,"b":96,"p":20,"q":25,"f":1.3e-6},{"a":91,"b":96,"p":25,"q":30,"f":7.9e-7},{"a":91,"b":96,"p":30,"q":35,"f":6.3e-7},{"a":91,"b":96,"p":35,"q":40,"f":4e-7},{"a":91,"b":96,"p":40,"q":45,"f":2.5e-7},{"a":91,"b":96,"p":45,"q":50,"f":1.6e-7},{"a":91,"b":96,"p":50,"q":55,"f":1.6e-7},{"a":91,"b":96,"p":55,"q":60,"f":1e-7},{"a":91,"b":96,"p":60,"q":65,"f":1e-7},{"a":91,"b":96,"p":65,"q":70,"f":7.9e-8},{"a":91,"b":96,"p":70,"q":75,"f":5e-8},{"a":91,"b":96,"p":75,"q":80,"f":4e-8},{"a":91,"b":96,"p":80,"q":85,"f":2.5e-8},{"a":91,"b":96,"p":85,"q":90,"f":2e-8},{"a":91,"b":96,"p":90,"q":95,"f":1.3e-8},{"a":91,"b":96,"p":95,"q":100,"f":1e-8},
{"a":96,"b":101,"p":0,"q":1,"f":1.6e-5},{"a":96,"b":101,"p":1,"q":2,"f":3.2e-5},{"a":96,"b":101,"p":2,"q":4,"f":3.2e-5},{"a":96,"b":101,"p":4,"q":6,"f":1.6e-5},{"a":96,"b":101,"p":6,"q":9,"f":6.3e-6},{"a":96,"b":101,"p":9,"q":12,"f":2.5e-6},{"a":96,"b":101,"p":12,"q":16,"f":1.3e-6},{"a":96,"b":101,"p":16,"q":20,"f":6.3e-7},{"a":96,"b":101,"p":20,"q":25,"f":3.2e-7},{"a":96,"b":101,"p":25,"q":30,"f":2e-7},{"a":96,"b":101,"p":30,"q":35,"f":1.3e-7},{"a":96,"b":101,"p":35,"q":40,"f":1e-7},{"a":96,"b":101,"p":40,"q":45,"f":7.9e-8},{"a":96,"b":101,"p":45,"q":50,"f":6.3e-8},{"a":96,"b":101,"p":50,"q":55,"f":5e-8},{"a":96,"b":101,"p":55,"q":60,"f":4e-8},{"a":96,"b":101,"p":60,"q":65,"f":3.2e-8},{"a":96,"b":101,"p":65,"q":70,"f":2.5e-8},{"a":96,"b":101,"p":70,"q":75,"f":2e-8},{"a":96,"b":101,"p":75,"q":80,"f":1.6e-8},{"a":96,"b":101,"p":80,"q":85,"f":1.3e-8},{"a":96,"b":101,"p":85,"q":90,"f":1e-8},{"a":96,"b":101,"p":90,"q":95,"f":6.3e-9},{"a":96,"b":101,"p":95,"q":100,"f":5e-9}
],
"yaxisline":[{"age":1,"pct_from":0,"pct_to":100}]
},
"concat":[
{
"width":376,"height":347,
"view":{"stroke":"#262626","strokeWidth":1},
"title":{"text":"(a)","orient":"bottom","anchor":"middle","frame":"bounds","offset":29,"font":"Liberation Serif","fontSize":25,"fontStyle":"italic","fontWeight":"bold","color":"#000000"},
"layer":[
{"data":{"name":"lines"},
"mark":{"type":"line","strokeWidth":2,"interpolate":"monotone","clip":true},
"encoding":{
"x":{"field":"pct","type":"quantitative","scale":{"domain":[0,100],"nice":false,"zero":false},"axis":{"title":"% of HSC pool mutated","values":[0,20,40,60,80,100],"titlePadding":9}},
"y":{"field":"prev","type":"quantitative","scale":{"type":"log","domain":[1e-17,2e-3],"nice":false},"axis":{"title":"Prevalence over all ages","values":[1e-17,1e-16,1e-15,1e-14,1e-13,1e-12,1e-11,1e-10,1e-9,1e-8,1e-7,1e-6,1e-5,1e-4,1e-3],"labelExpr":"round(log(datum.value)/LN10) == -5 ? '10⁻⁵' : round(log(datum.value)/LN10) == -10 ? '10⁻¹⁰' : round(log(datum.value)/LN10) == -15 ? '10⁻¹⁵' : ''","titlePadding":4}},
"color":{"field":"series","type":"nominal","scale":{"domain":["1 mutant clone","2 mutant clones","≥ 3 mutant clones","diagnosis threshold"],"range":["#0072BD","#D95319","#EDB120","#FF0000"]},"legend":{"title":null,"orient":"none","legendX":160,"legendY":10.5,"symbolType":"stroke","symbolSize":900,"symbolStrokeWidth":2,"clipHeight":21,"labelFont":"Liberation Sans, DejaVu Sans","labelFontSize":18,"labelColor":"#000000","strokeColor":"#404040","fillColor":"#ffffff","padding":5,"rowPadding":0,"labelOffset":5,"labelLimit":400,"encode":{"symbols":{"update":{"stroke":{"signal":"datum.value === '1 mutant clone' ? '#0072BD' : datum.value === '2 mutant clones' ? '#D95319' : datum.value === 'diagnosis threshold' ? '#FF0000' : '#EDB120'"},"strokeDash":{"signal":"datum.value === 'diagnosis threshold' ? [6,3,2,3] : [1,0]"}}}}}},
"strokeDash":{"field":"series","type":"nominal","scale":{"domain":["1 mutant clone","2 mutant clones","≥ 3 mutant clones","diagnosis threshold"],"range":[[1,0],[1,0],[1,0],[6,3,2,3]]},"legend":null}
}},
{"data":{"values":[{"series":"diagnosis threshold","pct":20}]},
"mark":{"type":"rule","strokeWidth":2},
"encoding":{
"x":{"field":"pct","type":"quantitative","axis":null},
"color":{"field":"series","type":"nominal"},
"strokeDash":{"field":"series","type":"nominal","legend":null}
}},
{"data":{"name":"lines"},
"mark":{"type":"point","opacity":0},
"encoding":{
"x":{"field":"pct","type":"quantitative","axis":{"orient":"top","labels":false,"title":null,"domain":false,"values":[0,20,40,60,80,100]}},
"y":{"field":"prev","type":"quantitative","axis":{"orient":"right","labels":false,"title":null,"domain":false,"values":[1e-17,1e-16,1e-15,1e-14,1e-13,1e-12,1e-11,1e-10,1e-9,1e-8,1e-7,1e-6,1e-5,1e-4,1e-3]}}
}}
],
"resolve":{"axis":{"x":"independent","y":"independent"}}
},
{
"width":355,"height":342.5,
"title":{"text":"(b)","orient":"bottom","anchor":"middle","frame":"bounds","offset":35,"font":"Liberation Serif","fontSize":25,"fontStyle":"italic","fontWeight":"bold","color":"#000000"},
"layer":[
{"data":{"name":"heat"},
"mark":{"type":"rect","strokeWidth":0.6},
"encoding":{
"x":{"field":"a","type":"quantitative","scale":{"domain":[1,101],"nice":false,"zero":false},"axis":{"title":"Age (years)","values":[20,40,60,80,100],"titlePadding":4}},
"x2":{"field":"b"},
"y":{"field":"p","type":"quantitative","scale":{"domain":[0,102.55],"nice":false},"axis":{"title":"% of HSC pool mutated","values":[0,20,40,60,80,100],"titlePadding":3,"domain":false}},
"y2":{"field":"q"},
"color":{"field":"f","type":"quantitative","scale":{"type":"log","domain":[1e-12,3.1623e-11,1e-9,3.1623e-8,1e-6,3.1623e-5,1e-3,3.1623e-2,1],"range":["#00007F","#0000FF","#007FFF","#00FFFF","#7FFF7F","#FFFF00","#FF7F00","#FF0000","#7F0000"],"interpolate":"rgb"},
"legend":{"title":"Fraction of population (with mutant clone)","orient":"none","legendX":377,"legendY":8.5,"padding":0,"direction":"vertical","gradientLength":334,"gradientThickness":21,"gradientStrokeColor":"#262626","gradientStrokeWidth":0.6,"values":[1e-12,1e-9,1e-6,1e-3,1],"labelExpr":"round(log(datum.value)/LN10) == 0 ? '10⁰' : round(log(datum.value)/LN10) == -3 ? '10⁻³' : round(log(datum.value)/LN10) == -6 ? '10⁻⁶' : round(log(datum.value)/LN10) == -9 ? '10⁻⁹' : '10⁻¹²'","labelFont":"Liberation Sans, DejaVu Sans","labelFontSize":19,"labelColor":"#262626","labelOffset":8,"labelOverlap":false,"titleOrient":"right","titleAngle":270,"titleAnchor":"middle","titleFont":"Liberation Sans","titleFontSize":21,"titleFontWeight":"normal","titleColor":"#262626","titlePadding":6,"titleLimit":420}},
"stroke":{"field":"f","type":"quantitative","scale":{"type":"log","domain":[1e-12,3.1623e-11,1e-9,3.1623e-8,1e-6,3.1623e-5,1e-3,3.1623e-2,1],"range":["#00007F","#0000FF","#007FFF","#00FFFF","#7FFF7F","#FFFF00","#FF7F00","#FF0000","#7F0000"],"interpolate":"rgb"},"legend":null}
}},
{"data":{"name":"yaxisline"},
"mark":{"type":"rule","color":"#262626","strokeWidth":1},
"encoding":{"x":{"field":"age","type":"quantitative"},"y":{"field":"pct_from","type":"quantitative"},"y2":{"field":"pct_to"}}}
]
}
],
"columns":2,
"spacing":36,
"align":"none",
"bounds":"full"
}
